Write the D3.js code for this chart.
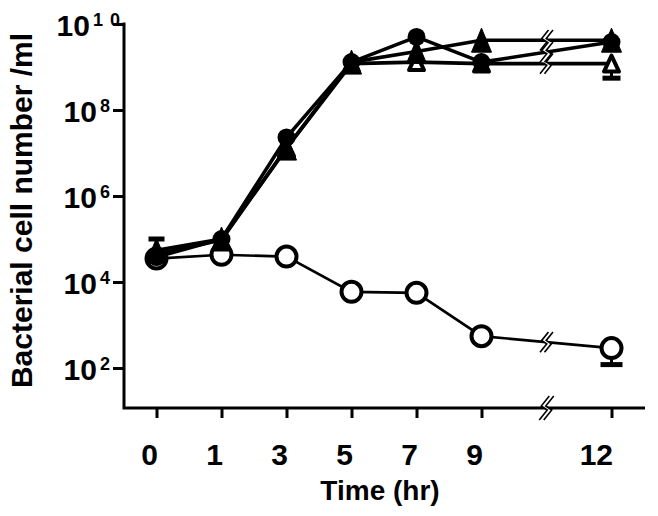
<!DOCTYPE html>
<html><head><meta charset="utf-8">
<script src="https://cdn.jsdelivr.net/npm/d3@7"></script>
<style>body{margin:0;background:#fff} svg{display:block}</style>
</head><body>
<script>
// ---- data ----
const timeLabels = ["0","1","3","5","7","9","12"];
const timeSlots  = [0, 1, 2, 3, 4, 5, 7];   // axis slot of each time (gap before 12)
const breakSlot  = 6;
const yTickExponents = [2, 4, 6, 8, 10];

const controlValues        = [3.5e4, 4.3e4, 3.9e4, 5.9e3, 5.6e3, 5.5e2, 2.9e2];   // open circles
const controlErrLow        = [null, null, null, null, null, null, 1.2e2];
const filledCircleValues   = [3.8e4, 1.0e5, 2.3e7, 1.3e9, 5.0e9, 1.3e9, 3.8e9];
const filledTriangleValues = [5.5e4, 1.0e5, 1.3e7, 1.3e9, 2.3e9, 4.2e9, 4.2e9];
const filledTriangleErrHigh= [1.0e5, null, null, null, null, null, null];
const openTriangleValues   = [4.5e4, 9.5e4, 1.3e7, 1.2e9, 1.3e9, 1.2e9, 1.2e9];
const openTriangleErrLow   = [null, null, null, null, null, null, 5.5e8];

// ---- layout ----
const W = 658, H = 516;
const axisLeftX = 124, axisBottomY = 408, axisRightX = 645;
const font = "Arial, 'Liberation Sans', Helvetica, sans-serif";

const svg = d3.select("body").append("svg").attr("width", W).attr("height", H);
svg.append("rect").attr("width", W).attr("height", H).attr("fill", "#fff");

const x = d3.scaleLinear().domain([-0.5, 7.5]).range([axisLeftX, axisRightX - 1]);
const y = d3.scaleLog().domain([1e2, 1e10]).range([368, 24]);

// ---- axes ----
const yAxis = d3.axisLeft(y).tickValues(yTickExponents.map(e => Math.pow(10, e)))
  .tickFormat("").tickSize(11).tickSizeOuter(0);
const gy = svg.append("g").attr("transform", `translate(${axisLeftX},0)`).call(yAxis);
gy.select(".domain").remove();
gy.selectAll(".tick line").attr("stroke", "#000").attr("stroke-width", 3);

const xAxis = d3.axisBottom(x).tickValues(timeSlots)
  .tickFormat((d, i) => timeLabels[i]).tickSize(10).tickPadding(0).tickSizeOuter(0);
const gx = svg.append("g").attr("transform", `translate(0,${axisBottomY})`).call(xAxis);
gx.select(".domain").remove();
gx.selectAll(".tick line").attr("stroke", "#000").attr("stroke-width", 3);
gx.selectAll(".tick text")
  .attr("text-anchor", "end").attr("x", 1).attr("y", 57).attr("dy", null)
  .attr("font-family", font).attr("font-weight", "bold").attr("font-size", 30).attr("fill", "#000");

// axis lines
svg.append("path")
  .attr("d", `M${axisLeftX},${y(1e10) - 1.5} L${axisLeftX},${axisBottomY} L${axisRightX},${axisBottomY}`)
  .attr("fill", "none").attr("stroke", "#000").attr("stroke-width", 3).attr("stroke-linejoin", "miter");

// y tick labels 10^n
yTickExponents.forEach(e => {
  const ty = y(Math.pow(10, e));
  const g = svg.append("g");
  const sup = g.append("text")
    .attr("font-family", font).attr("font-weight", "bold").attr("font-size", 18)
    .attr("text-anchor", "end").attr("y", ty + 1.5)
    .text(String(e));
  if (String(e).length > 1) {
    sup.attr("letter-spacing", 7).attr("x", 127);
  } else {
    sup.attr("x", 110);
  }
  const bb = sup.node().getBBox();
  g.append("text")
    .attr("font-family", font).attr("font-weight", "bold").attr("font-size", 30)
    .attr("text-anchor", "end").attr("x", bb.x - 3).attr("y", ty + 12)
    .text("10");
});

// axis titles
svg.append("text")
  .attr("transform", `translate(32,${(33 + 388) / 2}) rotate(-90)`)
  .attr("text-anchor", "middle").attr("font-family", font).attr("font-weight", "bold")
  .attr("font-size", 30).text("Bacterial cell number /ml");
svg.append("text")
  .attr("x", 380).attr("y", 500)
  .attr("text-anchor", "middle").attr("font-family", font).attr("font-weight", "bold")
  .attr("font-size", 28).text("Time (hr)");

// ---- break mark ----
function drawBreak(cx, cy, scale) {
  const s = scale || 1;
  const pts = [[5, -12], [-3, -2], [3, 2], [-5, 12]].map(p => [p[0] * s, p[1] * s]);
  const off = 4.5;
  const a = pts.map(p => [cx + p[0] - off / 2, cy + p[1]]);
  const b = pts.map(p => [cx + p[0] + off / 2, cy + p[1]]);
  const poly = a.concat(b.slice().reverse());
  svg.append("path").attr("d", "M" + poly.join("L") + "Z").attr("fill", "#fff").attr("stroke", "none");
  [a, b].forEach(line => {
    svg.append("path").attr("d", d3.line()(line)).attr("fill", "none")
      .attr("stroke", "#000").attr("stroke-width", 1.6);
  });
}

// ---- series ----
const lineGen = d3.line().x(d => x(d.s)).y(d => y(d.v));
function seriesData(vals) { return vals.map((v, i) => ({ s: timeSlots[i], v: v, i: i })); }

const growthSeries = [openTriangleValues, filledTriangleValues, filledCircleValues];

// error bars
function errBars(vals, lows, highs, capW) {
  vals.forEach((v, i) => {
    const cx = x(timeSlots[i]);
    [lows ? lows[i] : null, highs ? highs[i] : null].forEach(e => {
      if (e == null) return;
      svg.append("line").attr("x1", cx).attr("x2", cx).attr("y1", y(v)).attr("y2", y(e))
        .attr("stroke", "#000").attr("stroke-width", 3);
      svg.append("line").attr("x1", cx - capW / 2).attr("x2", cx + capW / 2)
        .attr("y1", y(e)).attr("y2", y(e)).attr("stroke", "#000").attr("stroke-width", 5);
    });
  });
}
errBars(controlValues, controlErrLow, null, 22);
errBars(openTriangleValues, openTriangleErrLow, null, 18);
errBars(filledTriangleValues, null, filledTriangleErrHigh, 16);

// control line
svg.append("path").datum(seriesData(controlValues)).attr("d", lineGen)
  .attr("fill", "none").attr("stroke", "#000").attr("stroke-width", 2.6);
// growth lines
growthSeries.forEach(vals => {
  svg.append("path").datum(seriesData(vals)).attr("d", lineGen)
    .attr("fill", "none").attr("stroke", "#000").attr("stroke-width", 3.6).attr("stroke-linejoin", "round");
});

// breaks on lines and axis
function breakY(vals) { return (y(vals[5]) + y(vals[6])) / 2; }
drawBreak(x(breakSlot), breakY(controlValues), 0.85);
growthSeries.forEach(vals => drawBreak(x(breakSlot), breakY(vals), 0.85));
drawBreak(x(breakSlot), axisBottomY, 1);

// markers
function triPath(w, h) { return `M0,${-h / 2}L${w / 2},${h / 2}L${-w / 2},${h / 2}Z`; }

svg.append("g").selectAll("circle").data(seriesData(controlValues)).join("circle")
  .attr("cx", d => x(d.s)).attr("cy", d => y(d.v)).attr("r", 10)
  .attr("fill", "#fff").attr("stroke", "#000").attr("stroke-width", 4);

svg.append("g").selectAll("path").data(seriesData(openTriangleValues)).join("path")
  .attr("transform", d => `translate(${x(d.s)},${y(d.v)})`)
  .attr("d", triPath(15, 16))
  .attr("fill", "#fff").attr("stroke", "#000").attr("stroke-width", 4).attr("stroke-linejoin", "round");

svg.append("g").selectAll("path").data(seriesData(filledTriangleValues)).join("path")
  .attr("transform", d => `translate(${x(d.s)},${y(d.v)})`)
  .attr("d", triPath(20, 24))
  .attr("fill", "#000").attr("stroke", "#000").attr("stroke-width", 1);

svg.append("g").selectAll("circle").data(seriesData(filledCircleValues)).join("circle")
  .attr("cx", d => x(d.s)).attr("cy", d => y(d.v)).attr("r", 9)
  .attr("fill", "#000");
</script>
</body></html>
